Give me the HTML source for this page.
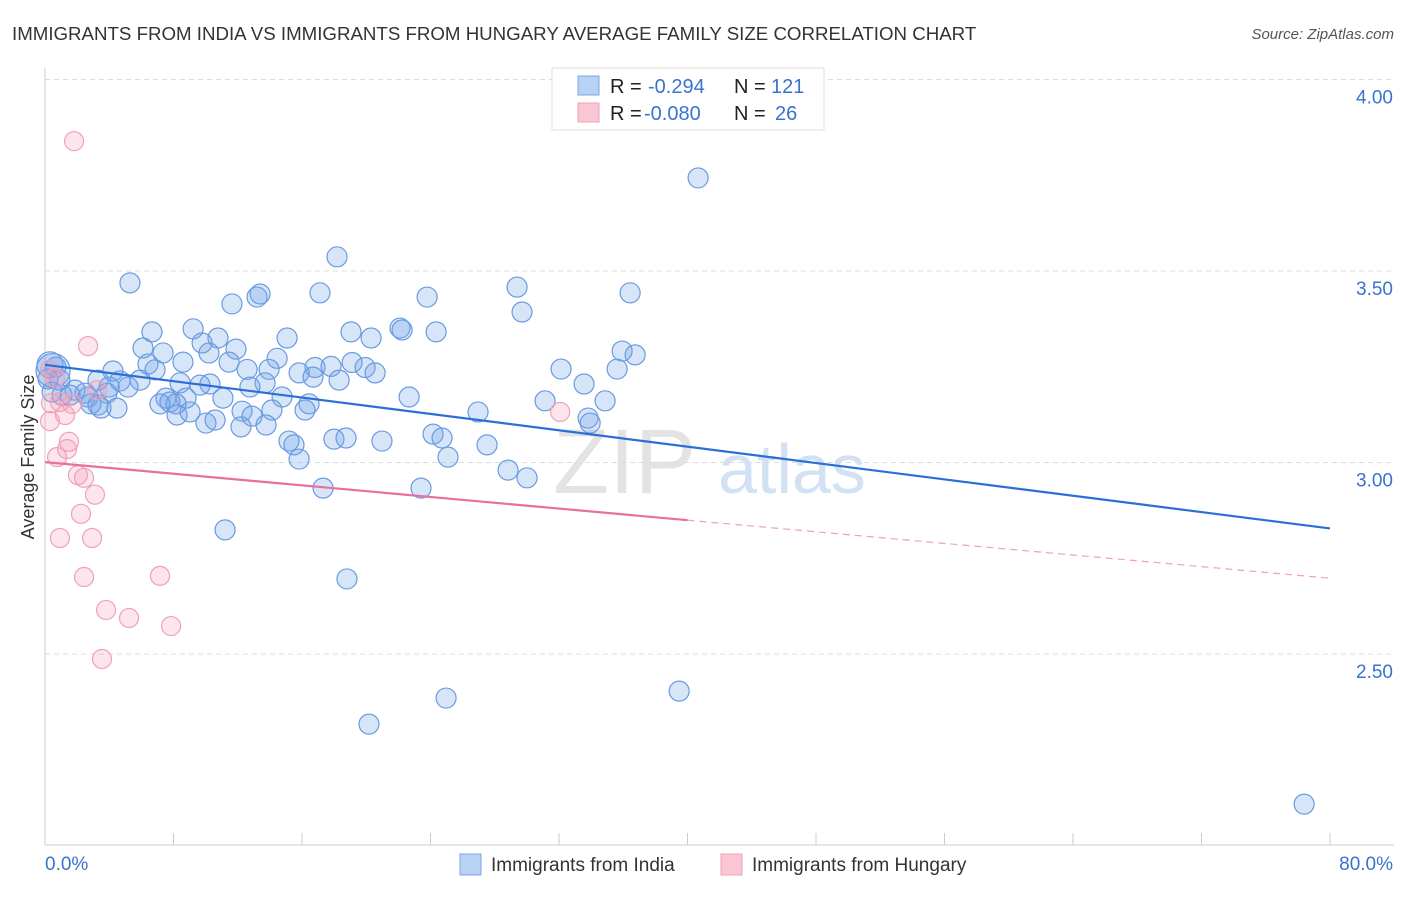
<!DOCTYPE html>
<html><head><meta charset="utf-8"><style>
body{margin:0;background:#fff;font-family:"Liberation Sans",sans-serif;}
svg text{font-family:"Liberation Sans",sans-serif;}
</style></head><body>
<svg id="chart" width="1406" height="892" xmlns="http://www.w3.org/2000/svg">
<text x="12" y="40" font-size="18.7" fill="#333">IMMIGRANTS FROM INDIA VS IMMIGRANTS FROM HUNGARY AVERAGE FAMILY SIZE CORRELATION CHART</text>
<text x="1394" y="39" font-size="15" fill="#555" text-anchor="end" font-style="italic">Source: ZipAtlas.com</text>
<g>
<text x="553" y="493" font-size="92" fill="#ddd" font-family="Liberation Serif" opacity="0.8">ZIP</text>
<text x="718" y="493" font-size="70" fill="#c8daf2" opacity="0.8">atlas</text>
</g>
<g id="grid"></g>
<g id="axes"></g>
<g id="marks"></g>
<g>
<rect x="552" y="68" width="272" height="62" fill="#fff" stroke="#ddd"/>
<rect x="578" y="76" width="21" height="19" fill="#b8d2f4" stroke="#7aa6e0"/>
<rect x="578" y="103" width="21" height="19" fill="#f9c6d4" stroke="#f0a0b8"/>
<text x="610" y="93" font-size="20" fill="#222">R = </text><text x="648" y="93" font-size="20" fill="#3a72d0">-0.294</text>
<text x="734" y="93" font-size="20" fill="#222">N = </text><text x="771" y="93" font-size="20" fill="#3a72d0">121</text>
<text x="610" y="120" font-size="20" fill="#222">R = </text><text x="644" y="120" font-size="20" fill="#3a72d0">-0.080</text>
<text x="734" y="120" font-size="20" fill="#222">N = </text><text x="775" y="120" font-size="20" fill="#3a72d0">26</text>
</g>
<g>
<rect x="460" y="854" width="21" height="21" fill="#b8d2f4" stroke="#7aa6e0"/>
<text x="491" y="871" font-size="19" fill="#333">Immigrants from India</text>
<rect x="721" y="854" width="21" height="21" fill="#f9c6d4" stroke="#f0a0b8"/>
<text x="752" y="871" font-size="19" fill="#333">Immigrants from Hungary</text>
</g>
<text transform="translate(34,457) rotate(-90)" font-size="18" fill="#333" text-anchor="middle">Average Family Size</text>
</svg>
<script>
const yTicks=[4.0,3.5,3.0,2.5];
const yTickLabels=["4.00","3.50","3.00","2.50"];
const xTickLabels=["0.0%","80.0%"];
const indiaX=[40.66,18.18,5.29,29.39,17.12,36.43,13.39,13.20,11.64,23.79,29.70,6.66,9.22,19.05,24.35,22.10,22.23,15.07,20.30,10.77,9.78,6.10,7.35,11.89,10.21,35.93,36.74,8.59,6.41,6.85,4.23,11.46,14.45,12.58,13.95,16.81,17.81,19.12,19.93,20.55,32.13,35.62,15.82,16.69,0.68,0.19,0.93,3.30,4.67,5.92,8.41,10.27,13.70,18.31,33.56,3.99,5.17,1.87,2.49,0.44,9.65,12.76,3.86,1.06,1.56,2.68,7.53,8.78,11.08,14.76,22.67,31.13,34.87,4.48,3.30,3.49,7.16,7.78,8.16,2.86,16.44,16.19,9.03,12.27,14.13,26.96,8.22,10.02,10.59,12.89,12.20,13.76,33.81,33.94,24.16,24.72,15.19,15.50,17.99,18.74,20.98,27.52,15.82,25.09,28.83,30.01,17.31,23.41,11.21,18.80,24.97,20.17,39.48,78.39,0.31,0.5];
const indiaY=[3.743,3.537,3.469,3.458,3.443,3.443,3.440,3.432,3.414,3.432,3.393,3.341,3.349,3.341,3.341,3.351,3.346,3.325,3.325,3.325,3.312,3.299,3.286,3.296,3.286,3.291,3.281,3.262,3.257,3.242,3.239,3.262,3.272,3.243,3.243,3.248,3.251,3.261,3.248,3.234,3.244,3.244,3.234,3.223,3.249,3.218,3.215,3.215,3.213,3.215,3.208,3.205,3.208,3.215,3.205,3.197,3.197,3.189,3.181,3.184,3.202,3.197,3.181,3.176,3.176,3.171,3.168,3.168,3.168,3.171,3.171,3.161,3.161,3.142,3.150,3.142,3.153,3.158,3.153,3.153,3.153,3.137,3.132,3.134,3.137,3.132,3.124,3.103,3.111,3.121,3.093,3.098,3.116,3.103,3.074,3.064,3.056,3.046,3.061,3.064,3.056,3.046,3.009,3.014,2.980,2.960,2.933,2.933,2.824,2.696,2.385,2.317,2.403,2.108,3.255,3.24];
const hungaryX=[1.81,2.68,0.62,3.24,0.37,0.93,1.68,1.25,0.31,1.49,1.37,0.75,2.05,2.43,3.11,2.24,0.93,2.93,2.43,7.16,3.80,5.23,7.85,3.55,32.07,0.31];
const hungaryY=[3.839,3.304,3.221,3.189,3.155,3.158,3.153,3.124,3.108,3.054,3.035,3.014,2.967,2.960,2.916,2.866,2.803,2.803,2.701,2.704,2.615,2.594,2.573,2.487,3.132,3.242];
const indiaTrend=[3.255,-0.00534];   // intercept, slope per %
const hungaryTrend=[3.001,-0.00379];
const hungarySolidEnd=40;

const NS="http://www.w3.org/2000/svg";
const X0=45,X1=1330,Y4=79.5,PXU=383;
const sx=v=>X0+(v/80)*(X1-X0);
const sy=v=>Y4+(4-v)*PXU;
function mk(tag,attrs,parent){const e=document.createElementNS(NS,tag);for(const k in attrs)e.setAttribute(k,attrs[k]);document.getElementById(parent).appendChild(e);return e;}

yTicks.forEach((t,i)=>{
  const g=mk('line',{x1:45,x2:1394,y1:sy(t),y2:sy(t),stroke:'#ddd','stroke-dasharray':'5,4'},'grid');
  
  
  const l=mk('text',{x:1393,y:sy(t)+24,'font-size':19,fill:'#3a72d0','text-anchor':'end'},'axes');
  l.textContent=yTickLabels[i];
  
  
});
const ax=mk('line',{x1:45,x2:45,y1:68,y2:845,stroke:'#ccc'},'axes');


const bx=mk('line',{x1:45,x2:1394,y1:845,y2:845,stroke:'#ccc'},'axes');


for(let k=0;k<=10;k++){
  const t=mk('line',{x1:sx(k*8),x2:sx(k*8),y1:833,y2:845,stroke:'#ccc'},'axes');
  
  
}
const xl0=mk('text',{x:45,y:870,'font-size':19,fill:'#3a72d0'},'axes');xl0.textContent=xTickLabels[0];


const xl1=mk('text',{x:1393,y:870,'font-size':19,fill:'#3a72d0','text-anchor':'end'},'axes');xl1.textContent=xTickLabels[1];



indiaX.forEach((x,i)=>{
  const r=(i>=indiaX.length-2)?(i===indiaX.length-1?17:13):10;
  const c=mk('circle',{cx:sx(x),cy:sy(indiaY[i]),r:r,fill:'rgba(110,160,235,0.28)',stroke:'#6a9ae0','stroke-width':1.2},'marks');
  
  
});
hungaryX.forEach((x,i)=>{
  const c=mk('circle',{cx:sx(x),cy:sy(hungaryY[i]),r:9.5,fill:'rgba(245,150,180,0.25)',stroke:'#f0a0b8','stroke-width':1.2},'marks');
  
  
});
const tl=(tr,x)=>tr[0]+tr[1]*x;
const bl=mk('line',{x1:sx(0),y1:sy(tl(indiaTrend,0)),x2:sx(80),y2:sy(tl(indiaTrend,80)),stroke:'#2a6fd8','stroke-width':2.2},'marks');


const pl=mk('line',{x1:sx(0),y1:sy(tl(hungaryTrend,0)),x2:sx(hungarySolidEnd),y2:sy(tl(hungaryTrend,hungarySolidEnd)),stroke:'#e8709a','stroke-width':2.2},'marks');


const pd=mk('line',{x1:sx(hungarySolidEnd),y1:sy(tl(hungaryTrend,hungarySolidEnd)),x2:sx(80),y2:sy(tl(hungaryTrend,80)),stroke:'#f0a0b8','stroke-width':1.2,'stroke-dasharray':'7,5'},'marks');


</script>
</body></html>
